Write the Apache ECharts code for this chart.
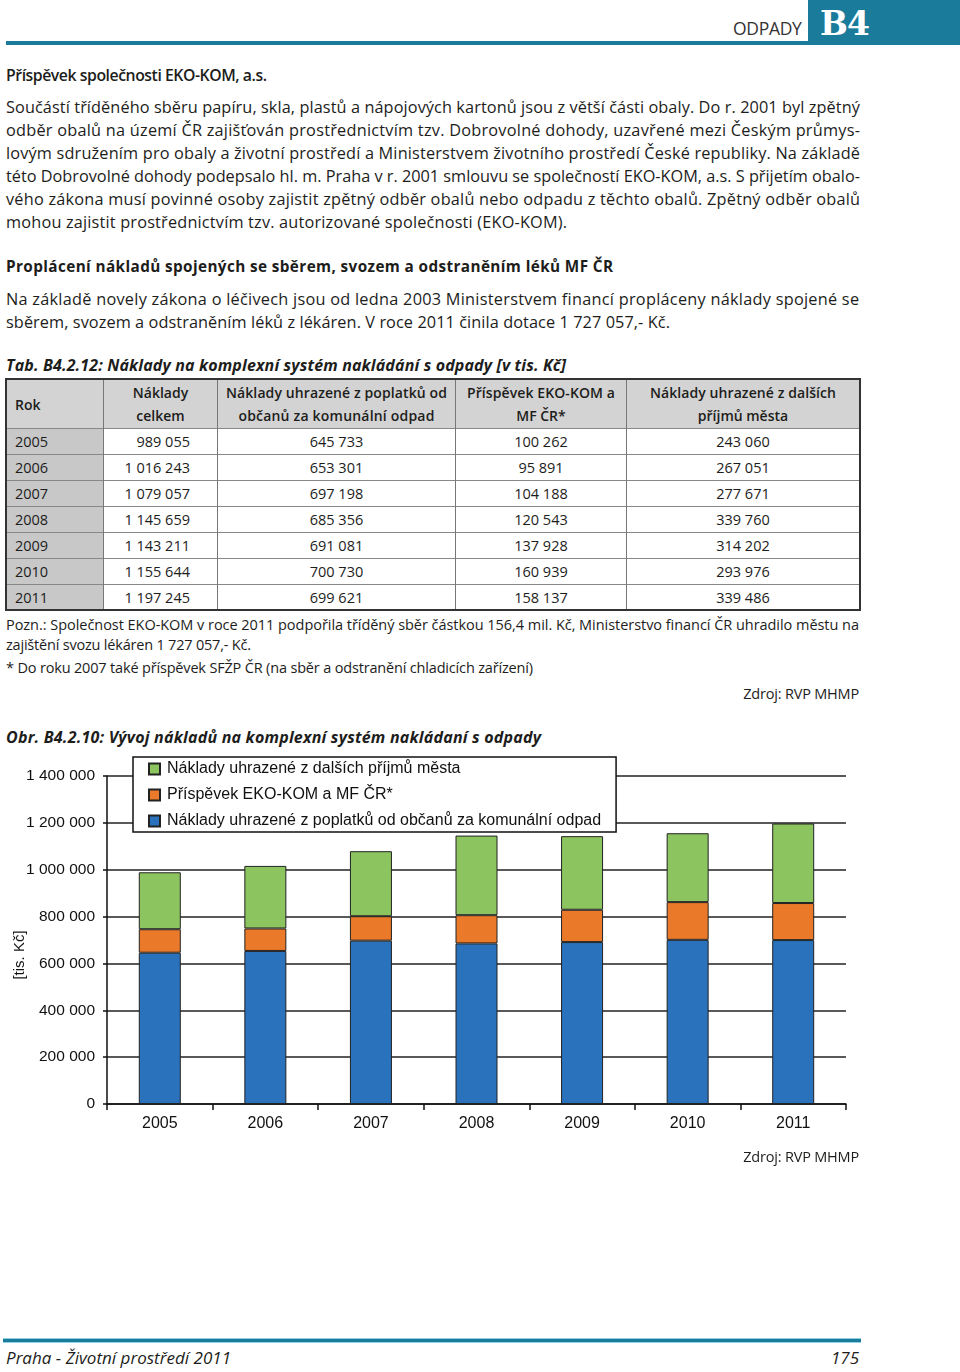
<!DOCTYPE html>
<html><head><meta charset="utf-8">
<script src="https://cdn.jsdelivr.net/npm/echarts@6/dist/echarts.min.js"></script>
<style>
html,body{margin:0;padding:0}
body{width:960px;height:1372px;position:relative;background:#fff;font-family:'Open Sans',sans-serif;color:#1d1d1b;overflow:hidden}
.t{position:absolute;white-space:nowrap;font-size:16.3px;line-height:20px;display:inline-block}
.b{font-weight:700}
.i{font-style:italic}
.sm{font-size:14.5px}
#topline{position:absolute;left:6px;top:41px;width:803px;height:4px;background:#1b7b9b}
#topbox{position:absolute;left:808px;top:0;width:152px;height:45px;background:#1b7b9b}
#b4{position:absolute;left:820px;top:4px;color:#fff;font-family:'DejaVu Serif','Liberation Serif',serif;font-weight:700;font-size:33px;line-height:40px;letter-spacing:-1px}
#odpady{position:absolute;left:733px;top:17px;font-size:17.5px;line-height:22px;color:#333;letter-spacing:-0.3px}
#botline{position:absolute;left:3px;top:1338px;width:858px;height:3px;background:#1b7b9b;border-top:1px solid #8fd0e6;border-bottom:1px solid #8fd0e6}
table{position:absolute;left:6px;top:379px;border-collapse:collapse;width:853px;font-size:14.5px;table-layout:fixed}
td{padding:0;border-left:1px solid #777;border-right:1px solid #777;border-top:1.5px solid #888;height:25px;text-align:center;line-height:20px;white-space:nowrap}
tr.h td{background:#d3d3d3;height:48px;font-weight:600;font-size:14px;line-height:23px;vertical-align:middle}
td.rok{background:#c8c8c8;text-align:left;padding-left:8px}
td.tot{text-align:right;padding-right:27px}
#tbl{outline:2px solid #333;outline-offset:-1px}
#chart{position:absolute;left:0;top:740px;width:960px;height:420px}
</style></head>
<body>
<div id="topline"></div><div id="topbox"></div>
<div id="odpady">ODPADY</div><div id="b4">B4</div>

<div class="t" style="left:6px;top:65px;font-size:15.8px;font-weight:600" data-w="261">Příspěvek společnosti EKO-KOM, a.s.</div>

<div class="t" style="left:6px;top:97px" data-w="854">Součástí tříděného sběru papíru, skla, plastů a nápojových kartonů jsou z větší části obaly. Do r. 2001 byl zpětný</div>
<div class="t" style="left:6px;top:120px" data-w="854">odběr obalů na území ČR zajišťován prostřednictvím tzv. Dobrovolné dohody, uzavřené mezi Českým průmys-</div>
<div class="t" style="left:6px;top:143px" data-w="854">lovým sdružením pro obaly a životní prostředí a Ministerstvem životního prostředí České republiky. Na základě</div>
<div class="t" style="left:6px;top:166px" data-w="854">této Dobrovolné dohody podepsalo hl. m. Praha v r. 2001 smlouvu se společností EKO-KOM, a.s. S přijetím obalo-</div>
<div class="t" style="left:6px;top:189px" data-w="854">vého zákona musí povinné osoby zajistit zpětný odběr obalů nebo odpadu z těchto obalů. Zpětný odběr obalů</div>
<div class="t" style="left:6px;top:212px" data-w="561">mohou zajistit prostřednictvím tzv. autorizované společnosti (EKO-KOM).</div>

<div class="t b" style="left:6px;top:256px;font-size:15.3px" data-w="607">Proplácení nákladů spojených se sběrem, svozem a odstraněním léků MF ČR</div>
<div class="t" style="left:6px;top:289px" data-w="853">Na základě novely zákona o léčivech jsou od ledna 2003 Ministerstvem financí propláceny náklady spojené se</div>
<div class="t" style="left:6px;top:312px" data-w="664">sběrem, svozem a odstraněním léků z lékáren. V roce 2011 činila dotace 1 727 057,- Kč.</div>

<div class="t b i" style="left:6px;top:355px;font-size:16px" data-w="560">Tab. B4.2.12: Náklady na komplexní systém nakládání s odpady [v tis. Kč]</div>

<table id="tbl">
<colgroup><col style="width:97px"><col style="width:114px"><col style="width:238px"><col style="width:171px"><col style="width:233px"></colgroup>
<tr class="h"><td class="rok" style="background:#d3d3d3">Rok</td><td>Náklady<br>celkem</td><td><span class="f" data-w="221">Náklady uhrazené z poplatků od</span><br><span class="f" data-w="196">občanů za komunální odpad</span></td><td><span class="f" data-w="148">Příspěvek EKO-KOM a</span><br>MF ČR*</td><td><span class="f" data-w="186">Náklady uhrazené z dalších</span><br>příjmů města</td></tr>
<tbody id="tb"></tbody>
</table>

<div class="t sm" style="left:6px;top:615px" data-w="853">Pozn.: Společnost EKO-KOM v roce 2011 podpořila tříděný sběr částkou 156,4 mil. Kč, Ministerstvo financí ČR uhradilo městu na</div>
<div class="t sm" style="left:6px;top:635px" data-w="245">zajištění svozu lékáren 1 727 057,- Kč.</div>
<div class="t sm" style="left:6px;top:658px" data-w="527">* Do roku 2007 také příspěvek SFŽP ČR (na sběr a odstranění chladicích zařízení)</div>
<div class="t sm" style="right:101px;top:684px" data-w="116">Zdroj: RVP MHMP</div>

<div class="t b i" style="left:6px;top:727px;font-size:16px" data-w="535">Obr. B4.2.10: Vývoj nákladů na komplexní systém nakládaní s odpady</div>

<div id="chart"></div>

<div class="t sm" style="right:101px;top:1147px" data-w="116">Zdroj: RVP MHMP</div>

<div id="botline"></div>
<div class="t i" style="left:6px;top:1348px;font-size:17px" data-w="225">Praha - Životní prostředí 2011</div>
<div class="t i" style="right:101px;top:1348px;font-size:17px" data-w="28">175</div>

<script>
// ---- data ----
const years = ['2005','2006','2007','2008','2009','2010','2011'];
const totalCosts = [989055,1016243,1079057,1145659,1143211,1155644,1197245];
const feeCosts = [645733,653301,697198,685356,691081,700730,699621];
const ekokomCosts = [100262,95891,104188,120543,137928,160939,158137];
const otherCosts = [243060,267051,277671,339760,314202,293976,339486];
const seriesNames = ['Náklady uhrazené z poplatků od občanů za komunální odpad','Příspěvek EKO-KOM a MF ČR*','Náklady uhrazené z dalších příjmů města'];
const yAxisName = '[tis. Kč]';

function fmt(v){return String(v).replace(/\B(?=(\d{3})+(?!\d))/g,'\u00a0');}

// table rows
const tb = document.getElementById('tb');
years.forEach((y,i)=>{
  const tr = document.createElement('tr');
  tr.innerHTML = '<td class="rok">'+y+'</td><td class="tot">'+fmt(totalCosts[i])+'</td><td>'+fmt(feeCosts[i])+'</td><td>'+fmt(ekokomCosts[i])+'</td><td>'+fmt(otherCosts[i])+'</td>';
  tb.appendChild(tr);
});

// fit text widths
function fit(el){
  const target = parseFloat(el.dataset.w);
  el.style.display='inline-block';
  el.style.whiteSpace='nowrap';
  const w = el.getBoundingClientRect().width;
  const n = Math.max(1, el.textContent.length - 1);
  el.style.letterSpacing = ((target - w)/n).toFixed(3)+'px';
}
document.querySelectorAll('[data-w]').forEach(fit);

// chart
const chart = echarts.init(document.getElementById('chart'));
const font = "'Liberation Sans', Arial, sans-serif";
const colors = ['#2a72bb','#ea7a29','#8cc45f'];
const values = [feeCosts, ekokomCosts, otherCosts];
chart.setOption({
  animation:false,
  textStyle:{fontFamily:font},
  grid:{left:107,right:114,top:36,bottom:56},
  legend:{
    data:[seriesNames[2],seriesNames[1],seriesNames[0]],
    orient:'vertical', left:133, top:17,
    backgroundColor:'#fff', borderColor:'#111', borderWidth:1.5,
    padding:[4,15,3,15], itemGap:10, itemWidth:11, itemHeight:11, icon:'rect',
    textStyle:{fontSize:16, color:'#111', fontFamily:font, lineHeight:15, padding:[0,0,0,2]}
  },
  xAxis:{
    type:'category', data:years,
    axisLine:{lineStyle:{color:'#111',width:1.5}},
    axisTick:{show:true,length:6,lineStyle:{color:'#111',width:1.5}},
    axisLabel:{fontSize:16,color:'#111',margin:12,fontFamily:font}
  },
  yAxis:{
    type:'value', min:0, max:1400000, interval:200000,
    axisLine:{show:true,lineStyle:{color:'#111',width:1.5}},
    axisTick:{show:true,length:4,lineStyle:{color:'#111',width:1.5}},
    axisLabel:{fontSize:15.5,color:'#111',margin:12,fontFamily:font,formatter:v=>fmt(v)},
    splitLine:{lineStyle:{color:'#222',width:1.5}}
  },
  graphic:[{type:'text',x:20,y:215,rotation:Math.PI/2,
    style:{text:yAxisName,fontSize:15,fontFamily:font,fill:'#111',textAlign:'center',textVerticalAlign:'middle'}}],
  series: values.map((d,i)=>({
    name:seriesNames[i], type:'bar', stack:'s', data:d, barWidth:42,
    itemStyle:{color:colors[i],borderColor:'#222',borderWidth:1}
  }))
});
</script>
</body></html>
